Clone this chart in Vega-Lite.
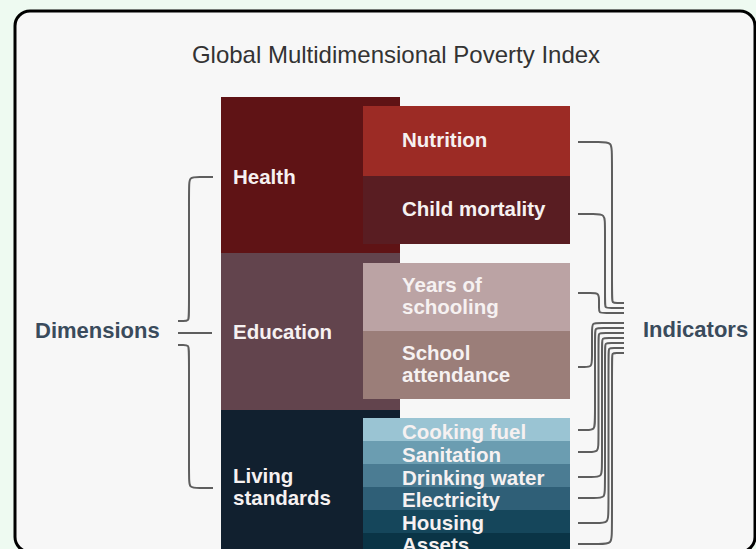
{
  "$schema": "https://vega.github.io/schema/vega-lite/v6.json",
  "width": 756,
  "height": 549,
  "autosize": {"type": "fit", "contains": "padding"},
  "padding": 0,
  "background": "#eefaf1",
  "config": {"view": {"stroke": null}},
  "datasets": {
    "card": [{"x": 15, "x2": 755, "y": 11, "y2": 552}],
    "boxes": [
      {"name": "Health", "x": 221, "x2": 400, "y": 97, "y2": 253},
      {"name": "Education", "x": 221, "x2": 400, "y": 253, "y2": 410},
      {"name": "Living standards", "x": 221, "x2": 400, "y": 410, "y2": 560},
      {"name": "Nutrition", "x": 363, "x2": 570, "y": 106, "y2": 176},
      {"name": "Child mortality", "x": 363, "x2": 570, "y": 176, "y2": 244},
      {"name": "Years of schooling", "x": 363, "x2": 570, "y": 263, "y2": 331},
      {"name": "School attendance", "x": 363, "x2": 570, "y": 331, "y2": 399},
      {"name": "Cooking fuel", "x": 363, "x2": 570, "y": 418, "y2": 441},
      {"name": "Sanitation", "x": 363, "x2": 570, "y": 441, "y2": 464},
      {"name": "Drinking water", "x": 363, "x2": 570, "y": 464, "y2": 487},
      {"name": "Electricity", "x": 363, "x2": 570, "y": 487, "y2": 510},
      {"name": "Housing", "x": 363, "x2": 570, "y": 510, "y2": 533},
      {"name": "Assets", "x": 363, "x2": 570, "y": 533, "y2": 560}
    ],
    "labels": [
      {"t": "Health", "x": 233, "y": 184},
      {"t": "Education", "x": 233, "y": 339},
      {"t": "Living", "x": 233, "y": 483},
      {"t": "standards", "x": 233, "y": 505},
      {"t": "Nutrition", "x": 402, "y": 147},
      {"t": "Child mortality", "x": 402, "y": 216},
      {"t": "Years of", "x": 402, "y": 292},
      {"t": "schooling", "x": 402, "y": 314},
      {"t": "School", "x": 402, "y": 360},
      {"t": "attendance", "x": 402, "y": 382},
      {"t": "Cooking fuel", "x": 402, "y": 439},
      {"t": "Sanitation", "x": 402, "y": 462},
      {"t": "Drinking water", "x": 402, "y": 485},
      {"t": "Electricity", "x": 402, "y": 507},
      {"t": "Housing", "x": 402, "y": 530},
      {"t": "Assets", "x": 402, "y": 552}
    ],
    "side": [
      {"t": "Dimensions", "x": 35, "y": 338},
      {"t": "Indicators", "x": 643, "y": 337}
    ],
    "title": [{"t": "Global Multidimensional Poverty Index", "x": 396, "y": 63}],
    "lines": [
      {"id": "b1", "o": 1, "x": 213, "y": 177}, {"id": "b1", "o": 2, "x": 199, "y": 177}, {"id": "b1", "o": 3, "x": 189, "y": 177}, {"id": "b1", "o": 4, "x": 189, "y": 187}, {"id": "b1", "o": 5, "x": 189, "y": 314}, {"id": "b1", "o": 6, "x": 189, "y": 321}, {"id": "b1", "o": 7, "x": 183, "y": 321}, {"id": "b1", "o": 8, "x": 178, "y": 321},
      {"id": "b2", "o": 1, "x": 178, "y": 333}, {"id": "b2", "o": 2, "x": 212, "y": 333},
      {"id": "b3", "o": 1, "x": 178, "y": 345}, {"id": "b3", "o": 2, "x": 183, "y": 345}, {"id": "b3", "o": 3, "x": 189, "y": 345}, {"id": "b3", "o": 4, "x": 189, "y": 352}, {"id": "b3", "o": 5, "x": 189, "y": 478}, {"id": "b3", "o": 6, "x": 189, "y": 488}, {"id": "b3", "o": 7, "x": 199, "y": 488}, {"id": "b3", "o": 8, "x": 213, "y": 488},

      {"id": "n", "o": 1, "x": 578, "y": 142}, {"id": "n", "o": 2, "x": 600, "y": 142}, {"id": "n", "o": 3, "x": 612, "y": 142}, {"id": "n", "o": 4, "x": 612, "y": 154}, {"id": "n", "o": 5, "x": 612, "y": 297}, {"id": "n", "o": 6, "x": 612, "y": 303}, {"id": "n", "o": 7, "x": 617, "y": 303}, {"id": "n", "o": 8, "x": 624, "y": 303},
      {"id": "c", "o": 1, "x": 578, "y": 214}, {"id": "c", "o": 2, "x": 594, "y": 214}, {"id": "c", "o": 3, "x": 605, "y": 214}, {"id": "c", "o": 4, "x": 605, "y": 225}, {"id": "c", "o": 5, "x": 605, "y": 303}, {"id": "c", "o": 6, "x": 605, "y": 308}, {"id": "c", "o": 7, "x": 610, "y": 308}, {"id": "c", "o": 8, "x": 624, "y": 308},
      {"id": "ys", "o": 1, "x": 578, "y": 293}, {"id": "ys", "o": 2, "x": 591, "y": 293}, {"id": "ys", "o": 3, "x": 599, "y": 293}, {"id": "ys", "o": 4, "x": 599, "y": 300}, {"id": "ys", "o": 5, "x": 599, "y": 308}, {"id": "ys", "o": 6, "x": 599, "y": 313}, {"id": "ys", "o": 7, "x": 604, "y": 313}, {"id": "ys", "o": 8, "x": 624, "y": 313},
      {"id": "sa", "o": 1, "x": 578, "y": 367}, {"id": "sa", "o": 2, "x": 584, "y": 367}, {"id": "sa", "o": 3, "x": 592, "y": 367}, {"id": "sa", "o": 4, "x": 592, "y": 359}, {"id": "sa", "o": 5, "x": 592, "y": 330}, {"id": "sa", "o": 6, "x": 592, "y": 323}, {"id": "sa", "o": 7, "x": 599, "y": 323}, {"id": "sa", "o": 8, "x": 624, "y": 323},
      {"id": "cf", "o": 1, "x": 578, "y": 430}, {"id": "cf", "o": 2, "x": 586, "y": 430}, {"id": "cf", "o": 3, "x": 595, "y": 430}, {"id": "cf", "o": 4, "x": 595, "y": 421}, {"id": "cf", "o": 5, "x": 595, "y": 334}, {"id": "cf", "o": 6, "x": 595, "y": 328}, {"id": "cf", "o": 7, "x": 601, "y": 328}, {"id": "cf", "o": 8, "x": 624, "y": 328},
      {"id": "sn", "o": 1, "x": 578, "y": 452}, {"id": "sn", "o": 2, "x": 589, "y": 452}, {"id": "sn", "o": 3, "x": 598.5, "y": 452}, {"id": "sn", "o": 4, "x": 598.5, "y": 443}, {"id": "sn", "o": 5, "x": 598.5, "y": 338}, {"id": "sn", "o": 6, "x": 598.5, "y": 333}, {"id": "sn", "o": 7, "x": 603, "y": 333}, {"id": "sn", "o": 8, "x": 624, "y": 333},
      {"id": "dw", "o": 1, "x": 578, "y": 477}, {"id": "dw", "o": 2, "x": 592, "y": 477}, {"id": "dw", "o": 3, "x": 602, "y": 477}, {"id": "dw", "o": 4, "x": 602, "y": 467}, {"id": "dw", "o": 5, "x": 602, "y": 343}, {"id": "dw", "o": 6, "x": 602, "y": 338}, {"id": "dw", "o": 7, "x": 607, "y": 338}, {"id": "dw", "o": 8, "x": 624, "y": 338},
      {"id": "el", "o": 1, "x": 578, "y": 498}, {"id": "el", "o": 2, "x": 595, "y": 498}, {"id": "el", "o": 3, "x": 605, "y": 498}, {"id": "el", "o": 4, "x": 605, "y": 488}, {"id": "el", "o": 5, "x": 605, "y": 348}, {"id": "el", "o": 6, "x": 605, "y": 343}, {"id": "el", "o": 7, "x": 610, "y": 343}, {"id": "el", "o": 8, "x": 624, "y": 343},
      {"id": "ho", "o": 1, "x": 578, "y": 523}, {"id": "ho", "o": 2, "x": 597, "y": 523}, {"id": "ho", "o": 3, "x": 608.5, "y": 523}, {"id": "ho", "o": 4, "x": 608.5, "y": 512}, {"id": "ho", "o": 5, "x": 608.5, "y": 353}, {"id": "ho", "o": 6, "x": 608.5, "y": 348}, {"id": "ho", "o": 7, "x": 613, "y": 348}, {"id": "ho", "o": 8, "x": 624, "y": 348},
      {"id": "as", "o": 1, "x": 578, "y": 544}, {"id": "as", "o": 2, "x": 600, "y": 544}, {"id": "as", "o": 3, "x": 612, "y": 544}, {"id": "as", "o": 4, "x": 612, "y": 532}, {"id": "as", "o": 5, "x": 612, "y": 358}, {"id": "as", "o": 6, "x": 612, "y": 353}, {"id": "as", "o": 7, "x": 616, "y": 353}, {"id": "as", "o": 8, "x": 624, "y": 353}
    ]
  },
  "layer": [
    {
      "data": {"name": "card"},
      "mark": {"type": "rect", "fill": "#f7f7f7", "stroke": "#000000", "strokeWidth": 3, "cornerRadius": 15, "clip": true},
      "encoding": {
        "x": {"field": "x", "type": "quantitative", "scale": {"domain": [0, 756], "nice": false, "zero": false}, "axis": null},
        "x2": {"field": "x2"},
        "y": {"field": "y", "type": "quantitative", "scale": {"domain": [0, 549], "nice": false, "zero": false, "reverse": true}, "axis": null},
        "y2": {"field": "y2"}
      }
    },
    {
      "data": {"name": "boxes"},
      "mark": {"type": "rect", "clip": true},
      "encoding": {
        "x": {"field": "x", "type": "quantitative", "scale": {"domain": [0, 756], "nice": false, "zero": false}, "axis": null},
        "x2": {"field": "x2"},
        "y": {"field": "y", "type": "quantitative", "scale": {"domain": [0, 549], "nice": false, "zero": false, "reverse": true}, "axis": null},
        "y2": {"field": "y2"},
        "color": {
          "field": "name", "type": "nominal", "legend": null,
          "scale": {
            "domain": ["Health", "Education", "Living standards", "Nutrition", "Child mortality", "Years of schooling", "School attendance", "Cooking fuel", "Sanitation", "Drinking water", "Electricity", "Housing", "Assets"],
            "range": ["#5f1315", "#62444d", "#11202f", "#9c2b25", "#591d22", "#bba3a4", "#9b7e79", "#9ac4d3", "#6b9db1", "#4b7c93", "#2f5f77", "#15465b", "#0a3446"]
          }
        }
      }
    },
    {
      "data": {"name": "lines"},
      "mark": {"type": "line", "interpolate": "basis", "stroke": "#5e5e5e", "strokeWidth": 2},
      "encoding": {
        "x": {"field": "x", "type": "quantitative", "scale": {"domain": [0, 756], "nice": false, "zero": false}, "axis": null},
        "y": {"field": "y", "type": "quantitative", "scale": {"domain": [0, 549], "nice": false, "zero": false, "reverse": true}, "axis": null},
        "detail": {"field": "id", "type": "nominal"},
        "order": {"field": "o", "type": "quantitative"}
      }
    },
    {
      "data": {"name": "labels"},
      "mark": {"type": "text", "align": "left", "baseline": "alphabetic", "font": "Liberation Sans", "fontWeight": "bold", "fontSize": 20.5, "fill": "#f6f1f1", "clip": true},
      "encoding": {
        "x": {"field": "x", "type": "quantitative", "scale": {"domain": [0, 756], "nice": false, "zero": false}, "axis": null},
        "y": {"field": "y", "type": "quantitative", "scale": {"domain": [0, 549], "nice": false, "zero": false, "reverse": true}, "axis": null},
        "text": {"field": "t"}
      }
    },
    {
      "data": {"name": "side"},
      "mark": {"type": "text", "align": "left", "baseline": "alphabetic", "font": "Liberation Sans", "fontWeight": "bold", "fontSize": 22, "fill": "#3a4b5c"},
      "encoding": {
        "x": {"field": "x", "type": "quantitative", "scale": {"domain": [0, 756], "nice": false, "zero": false}, "axis": null},
        "y": {"field": "y", "type": "quantitative", "scale": {"domain": [0, 549], "nice": false, "zero": false, "reverse": true}, "axis": null},
        "text": {"field": "t"}
      }
    },
    {
      "data": {"name": "title"},
      "mark": {"type": "text", "align": "center", "baseline": "alphabetic", "font": "Liberation Sans", "fontSize": 24, "fill": "#333333"},
      "encoding": {
        "x": {"field": "x", "type": "quantitative", "scale": {"domain": [0, 756], "nice": false, "zero": false}, "axis": null},
        "y": {"field": "y", "type": "quantitative", "scale": {"domain": [0, 549], "nice": false, "zero": false, "reverse": true}, "axis": null},
        "text": {"field": "t"}
      }
    }
  ]
}
